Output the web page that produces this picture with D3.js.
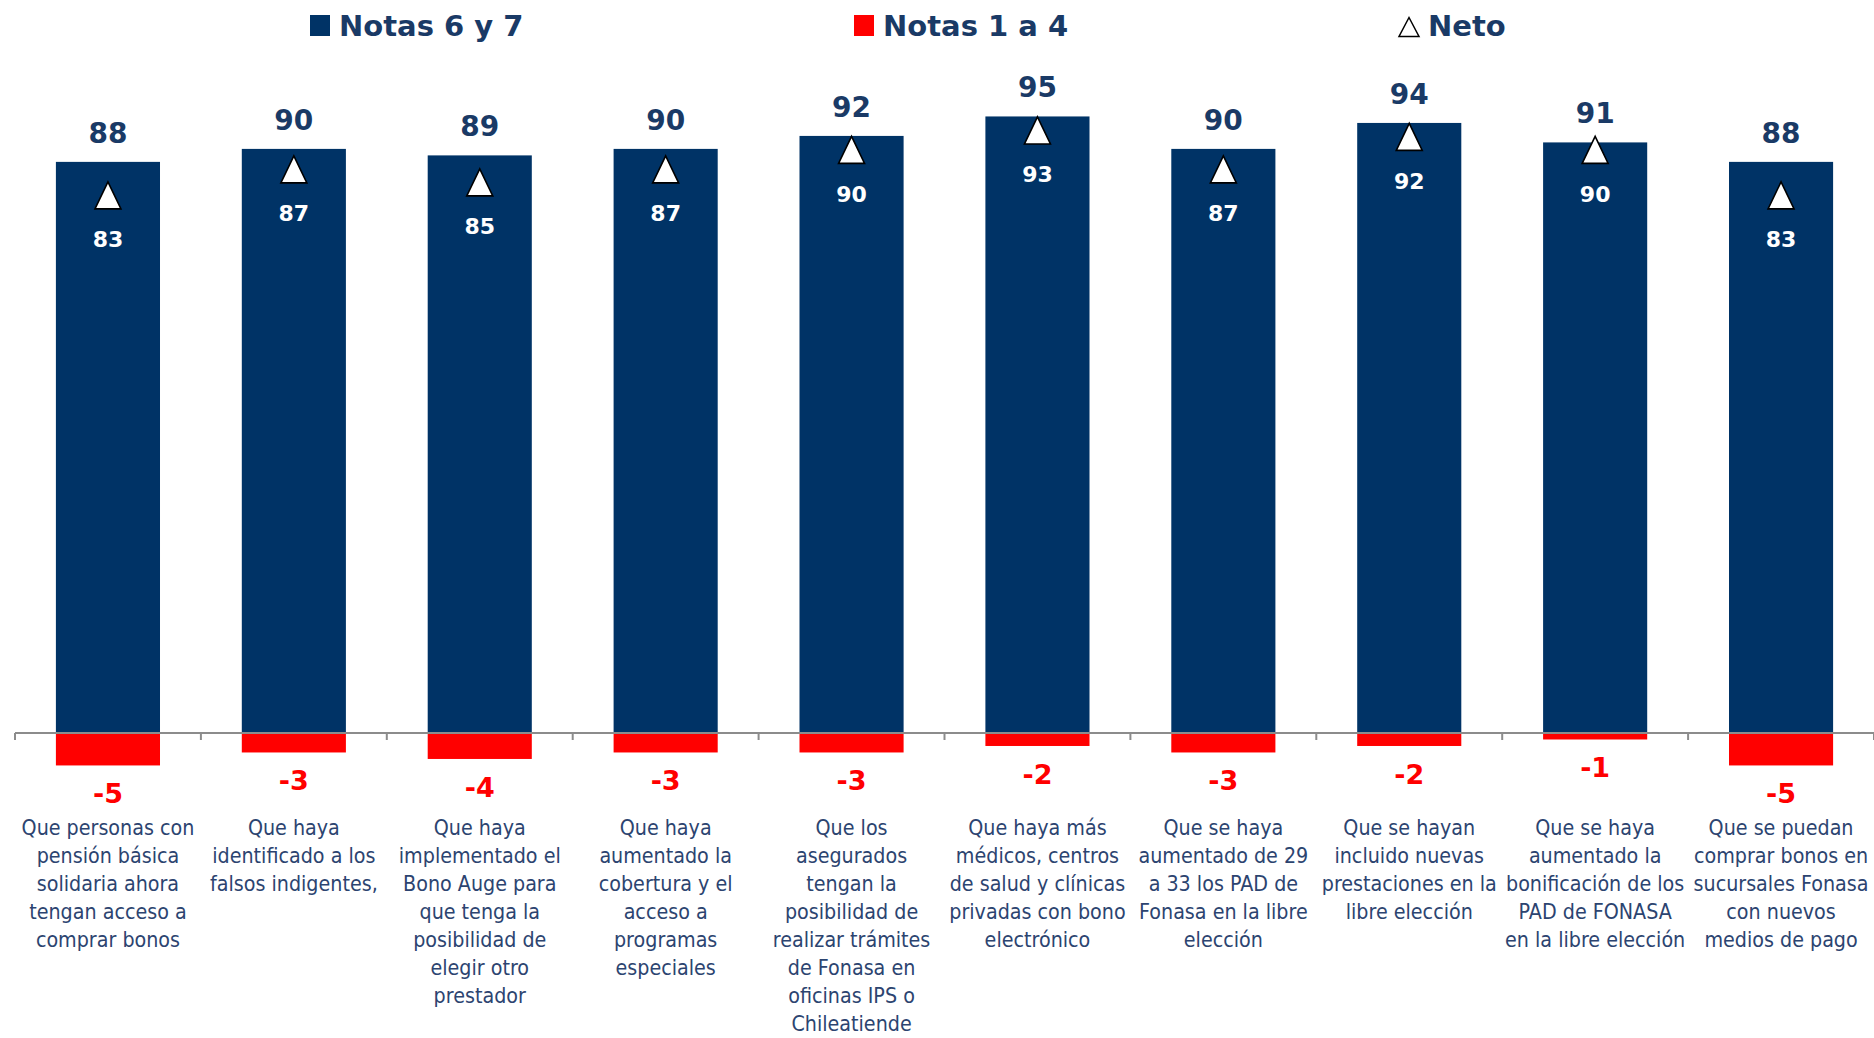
<!DOCTYPE html>
<html>
<head>
<meta charset="utf-8">
<script src="https://cdn.jsdelivr.net/npm/d3@7"></script>
<style>
  html, body { margin: 0; padding: 0; background: #ffffff; }
  svg { display: block; }
</style>
</head>
<body>
<svg id="chart" width="1874" height="1038"></svg>
<script>
// Survey items (line breaks marked with "|")
const categories = [
  "Que personas con|pensión básica|solidaria ahora|tengan acceso a|comprar bonos",
  "Que haya|identificado a los|falsos indigentes,",
  "Que haya|implementado el|Bono Auge para|que tenga la|posibilidad de|elegir otro|prestador",
  "Que haya|aumentado la|cobertura y el|acceso a|programas|especiales",
  "Que los|asegurados|tengan la|posibilidad de|realizar trámites|de Fonasa en|oficinas IPS o|Chileatiende",
  "Que haya más|médicos, centros|de salud y clínicas|privadas con bono|electrónico",
  "Que se haya|aumentado de 29|a 33 los PAD de|Fonasa en la libre|elección",
  "Que se hayan|incluido nuevas|prestaciones en la|libre elección",
  "Que se haya|aumentado la|bonificación de los|PAD de FONASA|en la libre elección",
  "Que se puedan|comprar bonos en|sucursales Fonasa|con nuevos|medios de pago"
];
const notas67 = [88, 90, 89, 90, 92, 95, 90, 94, 91, 88];
const notas14 = [-5, -3, -4, -3, -3, -2, -3, -2, -1, -5];
const neto    = [83, 87, 85, 87, 90, 93, 87, 92, 90, 83];
const legendLabels = ["Notas 6 y 7", "Notas 1 a 4", "Neto"];

const NAVY = "#003366";
const RED = "#ff0000";
const LABEL_NAVY = "#1a3a66";
const CAT_COLOR = "#2c4470";
const FONT = "'DejaVu Sans', Verdana, sans-serif";

const svg = d3.select("#chart");

const x = d3.scaleBand()
  .domain(d3.range(categories.length))
  .range([15, 1874])
  .paddingInner(0.44)
  .paddingOuter(0.22);

const y = d3.scaleLinear().domain([0, 100]).range([733, 84]);

const data = categories.map((c, i) => ({
  i, cat: c.split("|"), pos: notas67[i], neg: notas14[i], net: neto[i]
}));

// Positive bars
svg.append("g").selectAll("rect").data(data).join("rect")
  .attr("x", d => x(d.i))
  .attr("width", x.bandwidth())
  .attr("y", d => y(d.pos))
  .attr("height", d => y(0) - y(d.pos))
  .attr("fill", NAVY);

// Negative bars
svg.append("g").selectAll("rect").data(data).join("rect")
  .attr("x", d => x(d.i))
  .attr("width", x.bandwidth())
  .attr("y", y(0))
  .attr("height", d => y(d.neg) - y(0))
  .attr("fill", RED);

// Category axis with ticks between categories
const step = x.step();
const x0 = x.range()[0];
const axis = svg.append("g").attr("stroke", "#8c8c8c").attr("stroke-width", 2);
axis.append("line")
  .attr("x1", x0).attr("x2", x.range()[1])
  .attr("y1", y(0)).attr("y2", y(0));
axis.selectAll("line.tick").data(d3.range(categories.length + 1)).join("line")
  .attr("class", "tick")
  .attr("x1", k => x0 + k * step).attr("x2", k => x0 + k * step)
  .attr("y1", y(0)).attr("y2", y(0) + 7);

const cx = d => x(d.i) + x.bandwidth() / 2;

// Top value labels (Notas 6 y 7)
svg.append("g").selectAll("text").data(data).join("text")
  .attr("x", cx)
  .attr("y", d => y(d.pos) - 19)
  .attr("text-anchor", "middle")
  .attr("font-family", FONT)
  .attr("font-weight", "bold")
  .attr("font-size", 28)
  .attr("fill", LABEL_NAVY)
  .text(d => d.pos);

// Neto markers: tall isosceles triangle centred on the value
const triPath = (w, h) => `M0,${-h / 2}L${w / 2},${h / 2}L${-w / 2},${h / 2}Z`;
svg.append("g").selectAll("path").data(data).join("path")
  .attr("transform", d => `translate(${cx(d)},${y(d.net) + 1})`)
  .attr("d", triPath(26, 27))
  .attr("fill", "#ffffff")
  .attr("stroke", "#000000")
  .attr("stroke-width", 1.6)
  .attr("stroke-linejoin", "miter");

// Neto value labels
svg.append("g").selectAll("text").data(data).join("text")
  .attr("x", cx)
  .attr("y", d => y(d.net) + 53)
  .attr("text-anchor", "middle")
  .attr("font-family", FONT)
  .attr("font-weight", "bold")
  .attr("font-size", 22)
  .attr("fill", "#ffffff")
  .text(d => d.net);

// Negative value labels (Notas 1 a 4)
svg.append("g").selectAll("text").data(data).join("text")
  .attr("x", cx)
  .attr("y", d => y(d.neg) + 38)
  .attr("text-anchor", "middle")
  .attr("font-family", FONT)
  .attr("font-weight", "bold")
  .attr("font-size", 27)
  .attr("fill", RED)
  .text(d => d.neg);

// Category labels
const catG = svg.append("g").selectAll("g").data(data).join("g")
  .attr("transform", d => `translate(${cx(d)},835) scale(0.89,1)`);
catG.append("text")
  .attr("text-anchor", "middle")
  .attr("font-family", FONT)
  .attr("font-size", 21.5)
  .attr("fill", CAT_COLOR)
  .selectAll("tspan").data(d => d.cat).join("tspan")
  .attr("x", 0)
  .attr("y", (t, j) => j * 28)
  .text(t => t);

// Legend
const legend = svg.append("g")
  .attr("font-family", FONT)
  .attr("font-weight", "bold")
  .attr("font-size", 29)
  .attr("fill", LABEL_NAVY);

const legendX = [310, 854, 1399];
legend.append("rect").attr("x", legendX[0]).attr("y", 15).attr("width", 20).attr("height", 21).attr("fill", NAVY);
legend.append("rect").attr("x", legendX[1]).attr("y", 15).attr("width", 20).attr("height", 21).attr("fill", RED);
legend.append("path")
  .attr("transform", `translate(${legendX[2] + 10},27)`)
  .attr("d", triPath(20, 19))
  .attr("fill", "#ffffff").attr("stroke", "#000000").attr("stroke-width", 1.5);

legend.selectAll("text").data(legendLabels).join("text")
  .attr("x", (t, k) => legendX[k] + 29)
  .attr("y", 36)
  .text(t => t);
</script>
</body>
</html>
